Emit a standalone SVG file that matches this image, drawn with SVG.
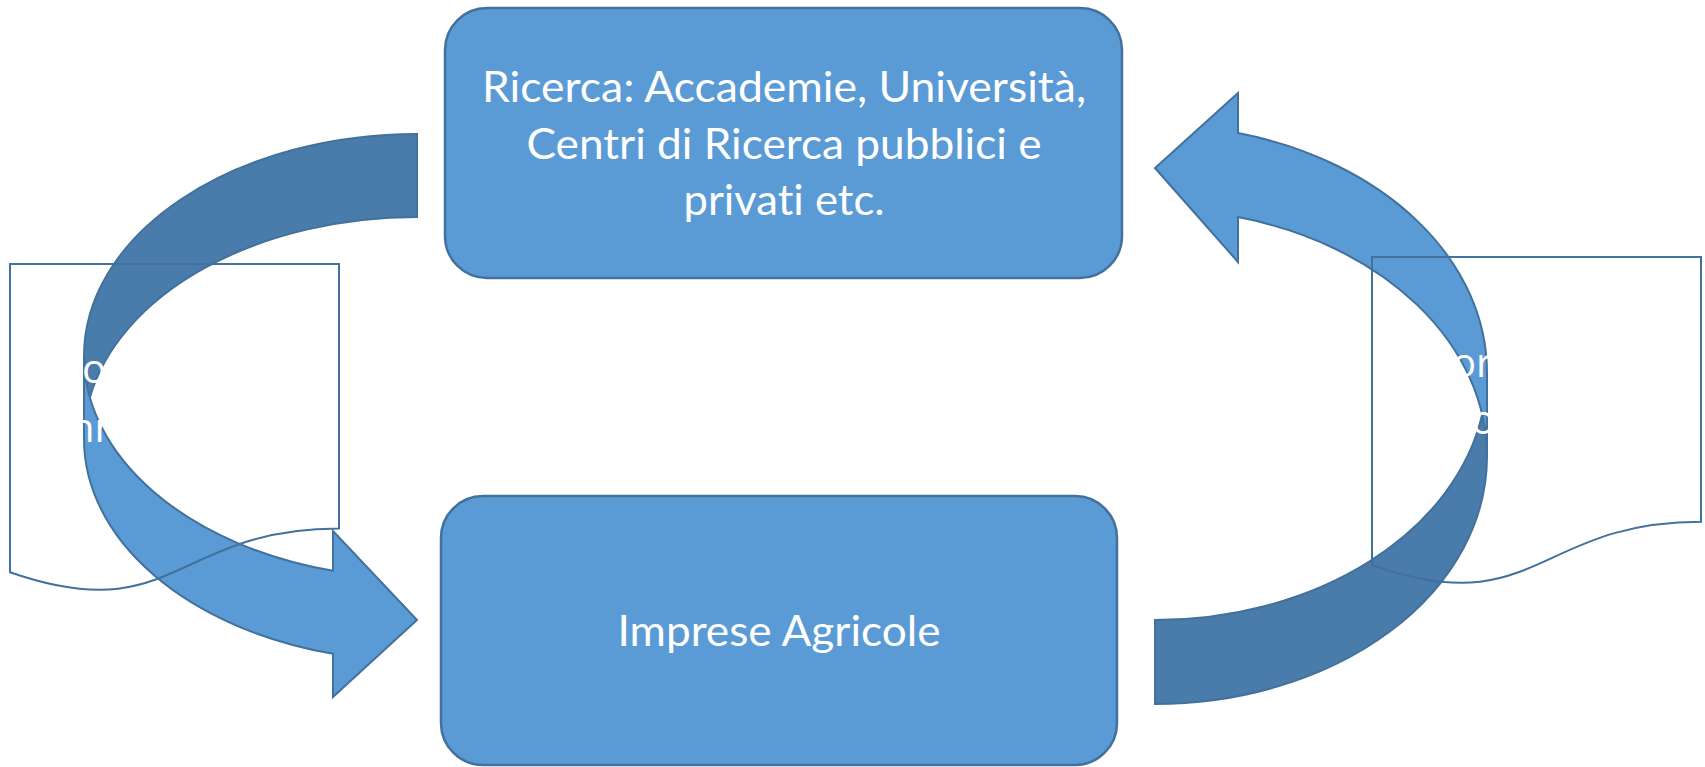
<svg xmlns="http://www.w3.org/2000/svg" width="1705" height="767" viewBox="0 0 1705 767">
<style>
.box{fill:#5B9BD5;stroke:#41719C;stroke-width:2.5}
.lbl{fill:#FFFFFF;font-family:Lato,"Liberation Sans",sans-serif;font-size:42px;text-anchor:middle;font-variant-ligatures:none;font-feature-settings:"liga" 0,"clig" 0}
.light{fill:#5B9BD5;stroke:none}
.dark{fill:#497CAA;stroke:none}
.outline{fill:none;stroke:#41719C;stroke-width:2;stroke-linejoin:miter}
.doc{fill:none;stroke:#41719C;stroke-width:2}
.frag{fill:#FFFFFF;font-family:"Open Sans","DejaVu Sans",sans-serif;font-size:40px}
</style>
<rect width="1705" height="767" fill="#FFFFFF"/>
<g id="connectors">
  <g id="arrow-ricerca-to-imprese">
    <path class="light" d="M84,356 A333,222 0 0 0 333,570.8 L333,531 L417,620 L333,697 L333,653.8 A333,222 0 0 1 84,439 Z"/>
    <path class="dark" d="M417,134 A333,222 0 0 0 89.9,397.5 A333,222 0 0 1 417,217 Z"/>
    <path class="outline" d="M84,356 A333,222 0 0 0 333,570.8 L333,531 L417,620 L333,697 L333,653.8 A333,222 0 0 1 84,439 L84,356 A333,222 0 0 1 417,134 L417,217 A333,222 0 0 0 89.9,397.5"/>
  </g>
  <g id="arrow-imprese-to-ricerca">
    <path class="light" d="M1487,456.6 A332,247.4 0 0 0 1238,217.1 L1238,262 L1155,168 L1238,93 L1238,133.1 A332,247.4 0 0 1 1487,372.6 Z"/>
    <path class="dark" d="M1155,704 A332,247.4 0 0 0 1482.2,414.6 A332,247.4 0 0 1 1155,620 Z"/>
    <path class="outline" d="M1487,456.6 A332,247.4 0 0 0 1238,217.1 L1238,262 L1155,168 L1238,93 L1238,133.1 A332,247.4 0 0 1 1487,372.6 L1487,456.6 A332,247.4 0 0 1 1155,704 L1155,620 A332,247.4 0 0 0 1482.2,414.6"/>
  </g>
</g>
<g id="node-ricerca">
  <rect class="box" x="445" y="8" width="677" height="270" rx="42" ry="42"/>
  <text class="lbl" x="784" y="102" textLength="604" lengthAdjust="spacingAndGlyphs">Ricerca: Accademie, Università,</text>
  <text class="lbl" x="784" y="158.5" textLength="515" lengthAdjust="spacingAndGlyphs">Centri di Ricerca pubblici e</text>
  <text class="lbl" x="784" y="215" textLength="201" lengthAdjust="spacingAndGlyphs">privati etc.</text>
</g>
<g id="node-imprese">
  <rect class="box" x="441" y="496" width="676" height="269" rx="42" ry="42"/>
  <text class="lbl" x="779" y="646" textLength="323" lengthAdjust="spacingAndGlyphs">Imprese Agricole</text>
</g>
<g id="doc-left">
  <path class="doc" d="M10,264 H339 V528.6 C174.5,528.6 174.5,629.5 10,572.2 Z"/>
  <text class="frag" x="82" y="383">o</text>
  <text class="frag" x="70" y="442">nr</text>
</g>
<g id="doc-right">
  <path class="doc" d="M1372,257 H1701 V521.7 C1536.5,521.7 1536.5,622.5 1372,565.2 Z"/>
  <text class="frag" x="1452" y="377">or</text>
  <text class="frag" x="1471" y="434">o</text>
</g>
</svg>
